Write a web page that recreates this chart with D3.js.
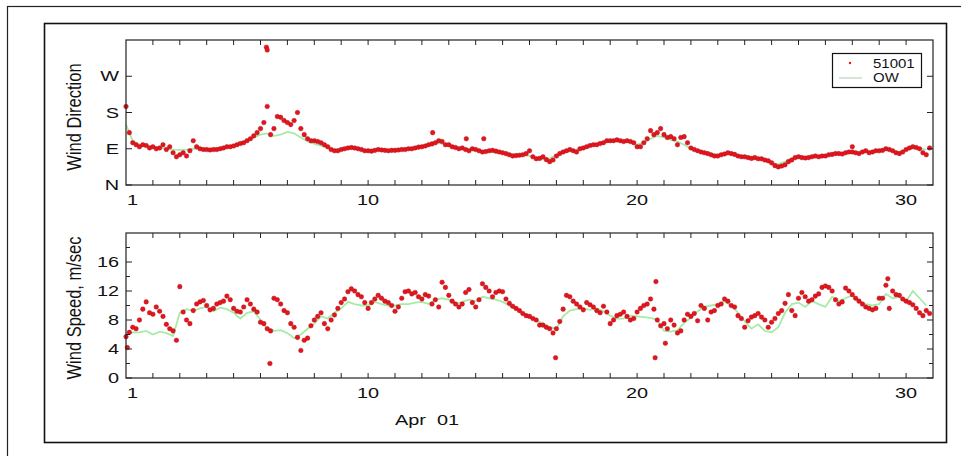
<!DOCTYPE html>
<html>
<head>
<meta charset="utf-8">
<script src="https://cdn.jsdelivr.net/npm/d3@7"></script>
<style>
  body { margin: 0; background: #fff; }
  text { font-family: Arial, "Liberation Sans", sans-serif; fill: #111; }
</style>
</head>
<body>
<div id="chart"></div>
<script>
// buoy 51001 observations, one value every 3 hours starting Apr 1 00h
const dirObs = [
  195, 130, 105, 100, 95, 100, 98, 92,
  95, 90, 92, 100, 88, 95, 80, 70,
  75, 80, 72, 85, 110, 95, 90, 88,
  88, 87, 88, 88, 90, 92, 95, 95,
  97, 100, 103, 105, 110, 115, 122, 130,
  140, 155, 195, 125, 140, 170, 168, 160,
  155, 150, 160, 180, 140, 125, 115, 110,
  110, 108, 105, 100, 95, 88, 85, 85,
  88, 90, 92, 93, 92, 90, 88, 85,
  85, 84, 86, 88, 87, 86, 85, 86,
  86, 87, 88, 88, 90, 90, 92, 94,
  95, 97, 100, 102, 105, 110, 108, 100,
  100, 95, 93, 90, 92, 88, 85, 90,
  88, 85, 82, 83, 85, 86, 84, 82,
  80, 78, 75, 72, 73, 74, 75, 78,
  85, 70, 65, 66, 70, 63, 58, 62,
  72, 78, 82, 85, 88, 85, 82, 90,
  92, 95, 98, 100, 100, 103, 105, 110,
  110, 110, 112, 110, 108, 110, 108, 105,
  95, 95, 105, 115, 135, 125, 130, 140,
  125, 118, 120, 115, 100, 118, 120, 105,
  92, 88, 85, 82, 80, 78, 75, 72,
  72, 75, 77, 80, 78, 76, 72, 70,
  70, 68, 66, 68, 65, 65, 62, 60,
  55, 48, 45, 47, 50, 58, 62, 68,
  70, 68, 67, 68, 70, 72, 70, 72,
  72, 75, 76, 78, 78, 77, 80, 82,
  82, 80, 78, 82, 85, 80, 82, 85,
  85, 86, 90, 88, 85, 80, 78, 82,
  88, 92, 95, 93, 90, 80, 75, 92
];
const spdObs = [
  5.7, 6.3, 7.0, 6.8, 8.0, 9.5, 10.5, 9.0,
  8.8, 9.8, 9.2, 8.5, 7.4, 6.8, 6.5, 5.2,
  12.6, 9.1, 8.0, 7.5, 9.3, 10.2, 10.5, 10.7,
  10.0, 9.4, 9.6, 10.2, 10.4, 10.6, 11.3, 10.8,
  9.6, 9.2, 9.1, 9.8, 10.8, 10.2, 9.5, 9.1,
  7.7, 7.5, 6.8, 6.5, 11.0, 10.8, 10.2, 9.3,
  9.0, 7.5, 7.0, 5.6, 3.8, 5.2, 5.5, 7.2,
  8.0, 8.5, 9.0, 7.5, 6.8, 8.0, 8.7, 9.6,
  10.4, 10.9, 11.9, 12.3, 12.0, 11.5, 11.2, 10.4,
  9.6, 10.4, 10.9, 11.4, 11.0, 10.6, 10.4, 10.0,
  9.2, 9.8, 11.0, 11.9, 12.0, 11.6, 11.8, 11.2,
  10.9, 11.5, 11.3, 10.2, 10.8, 9.8, 13.2, 12.5,
  11.4, 10.6, 10.2, 9.8, 10.2, 11.8, 12.2, 10.4,
  9.8, 10.8, 13.0, 12.5, 12.0, 11.2, 11.8, 12.0,
  11.9, 10.9, 10.3, 9.9, 9.6, 9.3, 8.9, 8.6,
  8.5, 8.2, 8.0, 7.3, 7.3, 7.0, 6.8, 6.2,
  6.8, 7.8, 9.5, 11.4, 11.2, 10.6, 10.2, 9.8,
  9.4, 10.4, 10.1, 9.8, 9.3, 9.0, 9.9, 9.1,
  7.5, 8.0, 8.6, 8.8, 9.1, 8.5, 8.0, 8.2,
  9.1, 9.6, 10.0, 10.2, 10.9, 9.5, 8.0, 7.2,
  7.5, 6.8, 8.0, 7.3, 6.2, 6.5, 8.0, 8.8,
  8.5, 8.9, 7.9, 10.0, 9.6, 8.0, 9.1, 9.3,
  10.0, 10.2, 10.9, 10.6, 10.0, 9.8, 8.6, 8.2,
  7.0, 7.9, 8.4, 8.6, 8.9, 8.4, 8.0, 7.0,
  7.7, 8.2, 8.9, 9.3, 10.3, 11.5, 9.3, 8.6,
  11.0, 11.8, 11.2, 10.6, 10.8, 11.3, 11.6, 12.5,
  12.7, 12.5, 12.0, 10.8, 10.2, 10.5, 12.4, 12.0,
  11.5, 11.0, 10.6, 10.2, 9.8, 9.6, 9.4, 9.6,
  11.0, 11.0, 12.8, 9.6, 12.0, 11.5, 11.4, 10.9,
  10.6, 10.4, 10.1, 9.6, 9.0, 8.6, 9.3, 8.9
];
// scattered extra readings (day, value)
const dirExtraDay = [6.22, 6.25, 12.4, 13.65, 14.3, 28.0];
const dirExtraVal = [342, 335, 130, 115, 115, 95];
const spdExtraDay = [1.05, 6.35, 16.97, 20.67, 20.7, 21.05, 29.32];
const spdExtraVal = [4.2, 2.0, 2.8, 2.8, 13.3, 4.8, 13.7];

// OW model, one value every 6 hours
const dirOW = [
  150, 110, 100, 97,   95, 93, 90, 88,   87, 88, 90, 90,   88, 90, 92, 95,
  98, 103, 110, 118,   125, 128, 122, 125,   132, 128, 118, 108,   102, 98, 92, 88,
  90, 92, 90, 88,   86, 87, 88, 87,   88, 90, 92, 93,   96, 100, 104, 103,
  97, 92, 90, 88,   86, 84, 83, 82,   80, 78, 76, 76,   72, 68, 64, 66,
  74, 80, 84, 87,   93, 98, 102, 106,   108, 110, 108, 106,   100, 105, 115, 122,
  118, 112, 108, 100,   90, 85, 82, 78,   75, 77, 76, 72,   68, 66, 65, 62,
  55, 52, 58, 66,   70, 69, 71, 72,   74, 77, 78, 80,   81, 80, 83, 84,
  86, 88, 84, 82,   88, 92, 90, 88
];
const spdOW = [
  6.0, 6.3, 6.3, 6.5,   6.0, 6.4, 6.2, 5.8,   9.0, 9.5, 9.3, 9.6,   9.8, 9.2, 9.7, 9.5,
  9.0, 8.2, 9.0, 9.2,   8.0, 6.8, 6.5, 6.6,   6.2, 5.5, 6.0, 6.8,   7.5, 8.5, 8.2, 9.0,
  9.6, 10.5, 10.2, 10.0,   10.0, 10.5, 10.2, 10.0,   10.0, 10.2, 10.2, 10.4,   10.5, 10.2, 10.8, 11.0,
  10.8, 10.2, 10.5, 10.8,   10.6, 11.2, 11.0, 10.8,   10.5, 10.0, 9.5, 9.0,   8.5, 8.0, 7.5, 7.0,
  6.8, 8.5, 9.3, 9.5,   9.6, 9.4, 9.6, 9.2,   8.6, 8.2, 8.2, 8.6,   8.5, 8.4, 8.3, 8.0,
  6.5, 6.4, 6.6, 7.6,   8.3, 9.2, 9.8, 10.0,   10.2, 10.6, 10.0, 9.0,   7.8, 6.8, 7.4, 6.5,
  6.3, 7.0, 9.0, 10.2,   10.4, 9.8, 10.6, 10.2,   9.8, 11.2, 10.6, 11.0,   11.4, 10.6, 10.2, 10.0,
  10.2, 11.6, 11.0, 11.2,   10.6, 12.0, 11.0, 10.0
];

const dirTicks = [0, 90, 180, 270];
const dirTickLabels = ["N", "E", "S", "W"];
const spdTicks = [0, 4, 8, 12, 16];
const dayLabels = [1, 10, 20, 30];

const W = 961, H = 456;
const svg = d3.select("#chart").append("svg").attr("width", W).attr("height", H);

// the source image is stretched sideways, so is its lettering
const stretch = 1.42;

// frames
svg.append("rect").attr("x", 7.5).attr("y", 6.5).attr("width", 960).attr("height", 460)
  .style("fill", "none").style("stroke", "#222").style("stroke-width", 1.2);
svg.append("rect").attr("x", 44.5).attr("y", 23.5).attr("width", 902).attr("height", 419)
  .style("fill", "none").style("stroke", "#111").style("stroke-width", 1.6);

const x = d3.scaleLinear().domain([1, 31]).range([126, 933]);
const yDir = d3.scaleLinear().domain([0, 360]).range([185, 40]);
const ySpd = d3.scaleLinear().domain([0, 20]).range([378, 233]);

const obsColor = "#e8141c";
const owColor = "#a6eba6";

function wideText(g, px, py, anchor, size, str) {
  return g.append("text")
    .attr("transform", "translate(" + px + "," + py + ") scale(" + stretch + ",1)")
    .attr("text-anchor", anchor).style("font-size", size + "px").text(str);
}

function panel(y, obs, obsStep, ow, owStep, exDay, exVal, yticks, ylabels, minorTicks, title, titleY) {
  const top = y.range()[1], bot = y.range()[0];
  const left = x.range()[0], right = x.range()[1];
  const g = svg.append("g");

  // OW line
  const line = d3.line().x((d, i) => x(1 + i * owStep)).y(d => y(d));
  g.append("path").datum(ow).attr("d", line)
    .style("fill", "none").style("stroke", owColor).style("stroke-width", 1.8);

  // buoy dots
  const pts = obs.map((v, i) => [1 + i * obsStep, v]);
  exDay.forEach((d, i) => pts.push([d, exVal[i]]));
  g.selectAll(".pt").data(pts).enter().append("circle")
    .attr("cx", d => x(d[0])).attr("cy", d => y(d[1])).attr("r", 2.3)
    .style("fill", obsColor).style("stroke", "#a0101a").style("stroke-width", 0.4);

  // box
  g.append("rect").attr("x", left).attr("y", top).attr("width", right - left).attr("height", bot - top)
    .style("fill", "none").style("stroke", "#222").style("stroke-width", 1.2);

  // day ticks, inward top and bottom
  const days = d3.range(2, 31);
  g.selectAll(".tb").data(days).enter().append("line")
    .attr("x1", d => x(d)).attr("x2", d => x(d)).attr("y1", bot).attr("y2", bot - 5)
    .style("stroke", "#222");
  g.selectAll(".tt").data(days).enter().append("line")
    .attr("x1", d => x(d)).attr("x2", d => x(d)).attr("y1", top).attr("y2", top + 5)
    .style("stroke", "#222");

  // y ticks both sides
  const all = yticks.concat(minorTicks);
  g.selectAll(".yl").data(all).enter().append("line")
    .attr("x1", left).attr("x2", d => left + (yticks.includes(d) ? 6 : 4))
    .attr("y1", d => y(d)).attr("y2", d => y(d)).style("stroke", "#222");
  g.selectAll(".yr").data(all).enter().append("line")
    .attr("x1", right).attr("x2", d => right - (yticks.includes(d) ? 6 : 4))
    .attr("y1", d => y(d)).attr("y2", d => y(d)).style("stroke", "#222");

  yticks.forEach((d, i) => wideText(g, left - 7, y(d) + 5, "end", 14, ylabels[i]));
  dayLabels.forEach(d => wideText(g, d === 1 ? x(d) + 1 : x(d), bot + 20,
    d === 1 ? "start" : "middle", 14, d));

  g.append("text")
    .attr("transform", "translate(81," + titleY + ") scale(1.2,1) rotate(-90)")
    .attr("text-anchor", "middle").style("font-size", "16.5px")
    .text(title);
}

panel(yDir, dirObs, 1 / 8, dirOW, 1 / 4, dirExtraDay, dirExtraVal,
  dirTicks, dirTickLabels, [], "Wind Direction", 117);
panel(ySpd, spdObs, 1 / 8, spdOW, 1 / 4, spdExtraDay, spdExtraVal,
  spdTicks, spdTicks.map(String), [2, 6, 10, 14, 18], "Wind Speed, m/sec", 308);

wideText(svg, 395, 425, "start", 14, "Apr  01").style("white-space", "pre");

// legend
const lg = svg.append("g");
lg.append("rect").attr("x", 832.5).attr("y", 53.5).attr("width", 89).attr("height", 34)
  .style("fill", "#fff").style("stroke", "#111").style("stroke-width", 1.2);
lg.append("circle").attr("cx", 850).attr("cy", 63).attr("r", 1.2).style("fill", obsColor);
lg.append("line").attr("x1", 839).attr("x2", 862).attr("y1", 78).attr("y2", 78)
  .style("stroke", "#d6e6d6").style("stroke-width", 2);
lg.append("text").attr("transform", "translate(873,68) scale(1.2,1)")
  .style("font-size", "12.5px").text("51001");
lg.append("text").attr("transform", "translate(873,82) scale(1.2,1)")
  .style("font-size", "12.5px").text("OW");
</script>
</body>
</html>
